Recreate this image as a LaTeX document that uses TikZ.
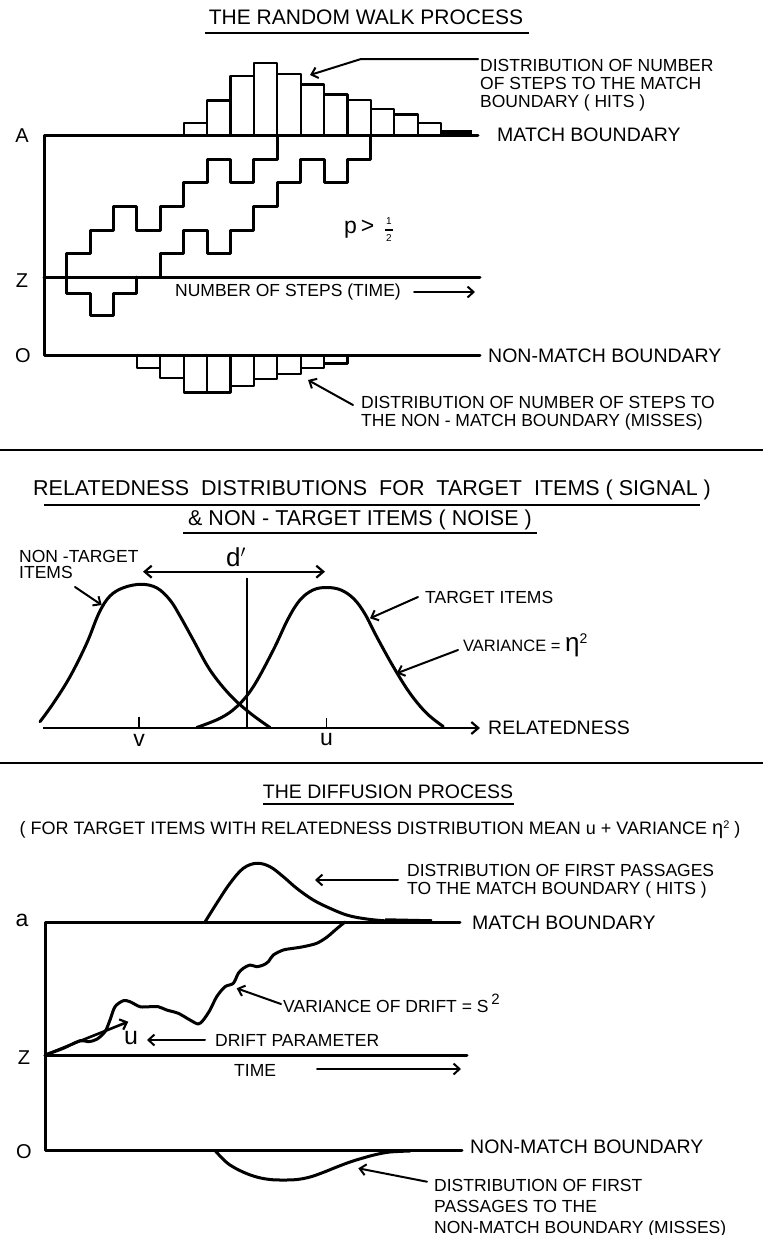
\documentclass[tikz,border=0pt]{standalone}
\usepackage{fontspec}
\setmainfont{Liberation Sans}
\usetikzlibrary{arrows.meta}
\newcommand\tzs{\fontsize{17.5}{17.7}\selectfont}
\newcommand\tzb{\fontsize{19.5}{20}\selectfont}
\newcommand\tzt{\fontsize{21.5}{22}\selectfont}
\newcommand\tzl{\fontsize{20}{20}\selectfont}
\begin{document}
\begin{tikzpicture}[x=1pt,y=-1pt,
  bold/.style={line width=3pt, line join=round, line cap=round},
  med/.style={line width=2.2pt, line join=round},
  rule/.style={line width=2pt},
  arr/.style={line width=2pt, line cap=round, -{Straight Barb[length=6pt,width=11pt,line width=2pt]}},
  txt/.style={inner sep=0pt, anchor=west, font=\tzs},
  bnd/.style={inner sep=0pt, anchor=west, font=\tzb},
  ttl/.style={inner sep=0pt, font=\tzt},
  axl/.style={inner sep=0pt, font=\tzl},
  multi/.style={inner sep=0pt, anchor=north west, align=left, font=\tzs}]
\fill[white] (0,0) rectangle (763,1235);
\useasboundingbox (0,0) rectangle (763,1235);

% ================= TOP PANEL =================
\node[ttl, font=\fontsize{21}{22}\selectfont] (t1) at (366,17) {THE RANDOM WALK PROCESS};
\draw[rule] (205,33) -- (529,33);

% boundaries
\draw[bold] (478,135) -- (44,135) -- (44,355) -- (480,355);
\draw[bold] (44,277) -- (480,277);
\node[axl] (lA) at (22,136) {A};
\node[axl] (lZ) at (22,281) {Z};
\node[axl] (lO) at (23,356) {O};
\node[bnd] (mb1) at (497,135) {MATCH BOUNDARY};
\node[bnd] (nmb1) at (488,356) {NON-MATCH BOUNDARY};

% histogram of hits
\foreach \k/\t in {5/122.7,6/100.5,7/76,8/63.3,9/74,10/84.5,11/94.5,12/100.3,13/109,14/114.5,15/123} {
  \draw[med] ({66.7+23.4*\k},135) rectangle ({66.7+23.4*(\k+1)},\t);
}
\fill (441.1,130) rectangle (472,136);

% histogram of misses
\foreach \k/\t in {3/368,4/378,5/392.5,6/392.5,7/386,8/379,9/374,10/368,11/363.5} {
  \draw[med] ({66.7+23.4*\k},355) rectangle ({66.7+23.4*(\k+1)},\t);
}

% random walks
\draw[bold] (136.9,277)--(136.9,293)--(113.5,293)--(113.5,315)--(90.1,315)--(90.1,293)--(66.7,293)--(66.7,253.5)--(90.1,253.5)--(90.1,230)--(113.5,230)--(113.5,206.5)--(136.9,206.5)--(136.9,230)--(160.3,230)--(160.3,206.5)--(183.7,206.5)--(183.7,182.5)--(207.1,182.5)--(207.1,159.5)--(230.5,159.5)--(230.5,182.5)--(253.9,182.5)--(253.9,159.5)--(277.3,159.5)--(277.3,135);
\draw[bold] (160.3,277)--(160.3,253.5)--(183.7,253.5)--(183.7,230)--(207.1,230)--(207.1,253.5)--(230.5,253.5)--(230.5,230)--(253.9,230)--(253.9,206.5)--(277.3,206.5)--(277.3,182.5)--(300.7,182.5)--(300.7,159.5)--(324.1,159.5)--(324.1,182.5)--(347.5,182.5)--(347.5,159.5)--(370.9,159.5)--(370.9,135);

\node[inner sep=0pt, anchor=west, font=\fontsize{23}{23}\selectfont] (pl) at (344,229) {p\,>};
\node[inner sep=0pt, align=center, font=\fontsize{10}{17}\selectfont] (fr) at (389,230) {1\\2};
\draw[line width=1.2pt] (385,230) -- (393,230);

\node[txt] (steps) at (175,292) {NUMBER OF STEPS (TIME)};
\coordinate (sa0) at (414,292);
\coordinate (sa1) at (475,292);
\draw[arr] (sa0) -- (sa1);

% hits label
\node[multi] (hits) at (480,59.5) {DISTRIBUTION OF NUMBER\\OF STEPS TO THE MATCH\\BOUNDARY ( HITS )};
\coordinate (h0) at (478,59);
\coordinate (h1) at (361,59);
\coordinate (h2) at (310,75);
\draw[arr] (h0) -- (h1) -- (h2);

% misses label
\node[multi] (miss) at (361,396) {DISTRIBUTION OF NUMBER OF STEPS TO\\THE NON - MATCH BOUNDARY (MISSES)};
\coordinate (m0) at (353,405);
\coordinate (m1) at (308,380);
\draw[arr] (m0) -- (m1);

\draw[rule] (0,450) -- (763,450);

% ================= MIDDLE PANEL =================
\node[ttl] (t2a) at (372,490) {RELATEDNESS\ \ DISTRIBUTIONS\ \ FOR\ \ TARGET\ \ ITEMS ( SIGNAL )};
\draw[rule] (44,505) -- (700,505);
\node[ttl] (t2b) at (360,520) {\& NON - TARGET ITEMS ( NOISE )};
\draw[rule] (183,533) -- (537,533);

\coordinate (ax0) at (43,728);
\coordinate (ax1) at (480,728);
\draw[line width=2.4pt, -{Straight Barb[length=7pt,width=12pt,line width=2.2pt]}] (ax0) -- (ax1);
\node[bnd] (rel) at (488,728) {RELATEDNESS};

\draw[bold] plot[smooth, tension=0.6] coordinates {(40,721.7) (53.3,703.3) (70,676.7) (86.7,643.3) (99,613) (110,596) (124,587.5) (141.7,584.3) (157,588) (170,600) (180,616) (193.3,640) (210,670) (230,695) (250,713) (270,727.5)};
\draw[bold] plot[smooth, tension=0.6] coordinates {(196.7,727.5) (220,718.3) (236.7,706.7) (253.3,686.7) (273.3,650) (288,619) (300,600) (313,590) (326.7,587.5) (341,590) (354,599) (365,614) (376.7,636.7) (393.3,666.7) (410,693.3) (426.7,713.3) (443.3,726.5)};

\coordinate (cr0) at (246.7,578);
\coordinate (cr1) at (246.7,728);
\draw[line width=1.6pt] (cr0) -- (cr1);

\coordinate (dl) at (143,571.7);
\coordinate (dr) at (325,571.7);
\draw[line width=2.2pt, {Straight Barb[length=7pt,width=12pt,line width=2.2pt]}-{Straight Barb[length=7pt,width=12pt,line width=2.2pt]}] (dl) -- (dr);
\node[inner sep=0pt, font=\fontsize{26}{26}\selectfont] (dp) at (236,557) {d$^{\prime}$};

\draw[line width=1.6pt] (139,716.5) -- (139,728);
\draw[line width=1.6pt] (326.5,718) -- (326.5,728);
\node[inner sep=0pt, font=\fontsize{23}{23}\selectfont] (lv) at (139,740) {v};
\node[inner sep=0pt, font=\fontsize{23}{23}\selectfont] (lu) at (326.5,740) {u};

\node[multi, font=\fontsize{17.5}{16.5}\selectfont] (ntl) at (19,550) {NON -TARGET\\ITEMS};
\coordinate (n0) at (75,587);
\coordinate (n1) at (101.7,605);
\draw[arr] (n0) -- (n1);

\node[txt] (tgl) at (425,597) {TARGET ITEMS};
\coordinate (g0) at (418,597);
\coordinate (g1) at (370,618.3);
\draw[arr] (g0) -- (g1);

\node[txt, font=\fontsize{16.5}{17}\selectfont] (varl) at (463,645) {VARIANCE = {\fontsize{26}{26}\selectfont η}\raisebox{8pt}{\fontsize{14}{14}\selectfont 2}};
\coordinate (v0) at (458,650);
\coordinate (v1) at (396.7,673.3);
\draw[arr] (v0) -- (v1);

\draw[rule] (0,763) -- (763,763);

% ================= BOTTOM PANEL =================
\node[ttl, font=\fontsize{19.5}{20}\selectfont] (t3) at (388,792) {THE DIFFUSION PROCESS};
\draw[rule] (263,804) -- (514,804);
\node[inner sep=0pt, font=\fontsize{18}{18}\selectfont] (sub) at (380,830) {( FOR TARGET ITEMS WITH RELATEDNESS DISTRIBUTION MEAN u + VARIANCE {\fontsize{20}{20}\selectfont η}\raisebox{6pt}{\fontsize{11}{11}\selectfont 2} )};

\draw[bold] (460,922) -- (45,922) -- (45,1150) -- (462,1150);
\draw[bold] (45,1055) -- (467,1055);
\node[inner sep=0pt, font=\fontsize{23}{23}\selectfont] (la) at (22,920) {a};
\node[axl] (lZ2) at (24,1058) {Z};
\node[axl] (lO2) at (24,1152) {O};
\node[bnd] (mb2) at (472,923) {MATCH BOUNDARY};
\node[bnd] (nmb2) at (470,1147) {NON-MATCH BOUNDARY};

\node[txt] (time) at (234,1070) {TIME};
\coordinate (ta0) at (317,1069);
\coordinate (ta1) at (461,1069);
\draw[arr] (ta0) -- (ta1);

% hits density
\draw[bold] plot[smooth, tension=0.6] coordinates {(205,922) (216.7,903.3) (230,883.3) (243.3,868.3) (256.7,863.3) (270,866.7) (283.3,876.7) (296.7,888.3) (313.3,900) (330,908.3) (346.7,915) (363.3,918.5) (383.3,920.7) (406.7,921.7) (430,922)};
\draw[line width=4.5pt] (385,920.5) -- (432,921.5);

% misses density
\draw[bold] plot[smooth, tension=0.6] coordinates {(215,1150.5) (222,1158) (230,1165) (243,1172) (256.7,1177) (270,1179.5) (283.3,1180) (297,1179.5) (310,1177) (323,1172.5) (336.7,1167) (350,1162) (363,1158) (376,1154.5) (390,1152) (410,1151)};

% diffusion path
\draw[bold] plot[smooth, tension=0.5] coordinates {(45,1055) (63.3,1048.3) (80,1040.7) (88.3,1041.7) (96.7,1039.3) (105,1031.7) (110,1020) (115,1006.7) (123.3,1000.7) (130,1001.7) (140,1006.7) (150,1006.7) (158.3,1006.7) (166.7,1010) (178.3,1013.3) (190,1020) (198.3,1024) (203.3,1020) (210,1010) (216.7,996.7) (225,986.7) (233.3,983.3) (238.3,973.3) (243.3,968.3) (250,965) (256.7,966.7) (263.3,965) (268.3,961.7) (273.3,955) (283.3,950) (293.3,948.3) (303.3,946.7) (316.7,943.3) (326.7,937.3) (333.3,931.7) (340,926) (345,922)};

% drift arrow
\coordinate (z0) at (45,1055);
\coordinate (z1) at (128.3,1021.7);
\draw[line width=2.6pt, -{Straight Barb[length=6pt,width=11pt,line width=2.2pt]}] (z0) -- (z1);
\node[inner sep=0pt, font=\fontsize{25}{25}\selectfont] (ld) at (131,1038) {u};
\coordinate (dp0) at (205,1040);
\coordinate (dp1) at (147,1040);
\draw[arr] (dp0) -- (dp1);
\node[txt] (drift) at (215,1040) {DRIFT PARAMETER};

\node[txt] (vard) at (283,1003) {VARIANCE OF DRIFT = S\,\raisebox{8pt}{\fontsize{15}{15}\selectfont 2}};
\coordinate (vd0) at (281,1004);
\coordinate (vd1) at (236.7,988.3);
\draw[arr] (vd0) -- (vd1);

% hits label
\node[multi] (dhits) at (407,864) {DISTRIBUTION OF FIRST PASSAGES\\TO THE MATCH BOUNDARY ( HITS )};
\coordinate (dh0) at (398,880);
\coordinate (dh1) at (315,880);
\draw[arr] (dh0) -- (dh1);

% misses label
\node[multi, font=\fontsize{17.5}{21}\selectfont] (dmiss) at (434,1179) {DISTRIBUTION OF FIRST\\PASSAGES TO THE\\NON-MATCH BOUNDARY (MISSES)};
\coordinate (dm0) at (427,1181.7);
\coordinate (dm1) at (358.3,1168.3);
\draw[arr] (dm0) -- (dm1);
\end{tikzpicture}
\end{document}
